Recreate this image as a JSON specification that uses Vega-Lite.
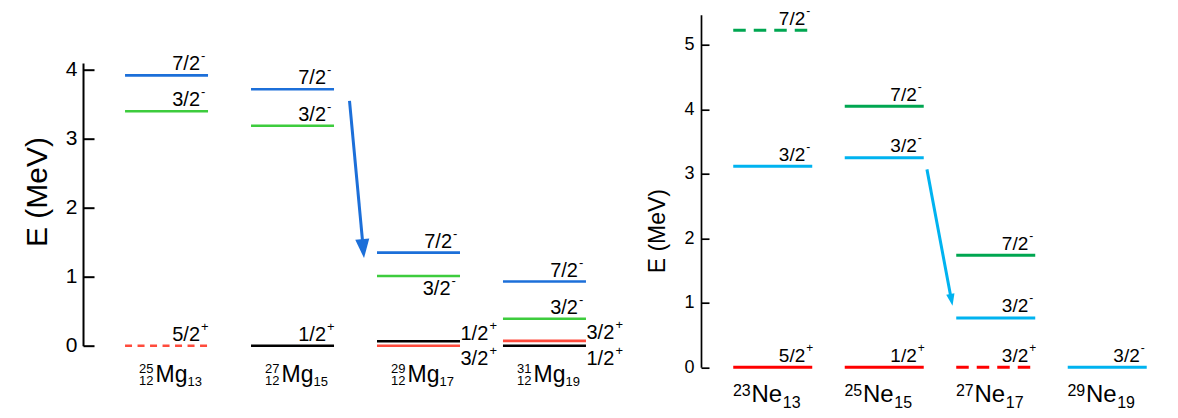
{
  "$schema": "https://vega.github.io/schema/vega-lite/v6.json",
  "padding": {"left": 22, "top": 3.7, "right": 0, "bottom": 0},
  "spacing": 18,
  "config": {"view": {"stroke": null}, "font": "Liberation Sans"},
  "resolve": {"scale": {"color": "independent"}},
  "datasets": {
    "mg": [
      {"nuc": "25Mg", "E": 3.92, "J": "7/2", "P": "-", "jp": "7/2-", "tent": false},
      {"nuc": "25Mg", "E": 3.40, "J": "3/2", "P": "-", "jp": "3/2-", "tent": false},
      {"nuc": "25Mg", "E": 0, "J": "5/2", "P": "+", "jp": "5/2+", "tent": true},
      {"nuc": "27Mg", "E": 3.72, "J": "7/2", "P": "-", "jp": "7/2-", "tent": false},
      {"nuc": "27Mg", "E": 3.19, "J": "3/2", "P": "-", "jp": "3/2-", "tent": false},
      {"nuc": "27Mg", "E": 0, "J": "1/2", "P": "+", "jp": "1/2+", "tent": false},
      {"nuc": "29Mg", "E": 1.35, "J": "7/2", "P": "-", "jp": "7/2-", "tent": false},
      {"nuc": "29Mg", "E": 1.01, "J": "3/2", "P": "-", "jp": "3/2-", "tent": false},
      {"nuc": "29Mg", "E": 0.064, "J": "1/2", "P": "+", "jp": "1/2+", "tent": false},
      {"nuc": "29Mg", "E": 0, "J": "3/2", "P": "+", "jp": "3/2+", "tent": false},
      {"nuc": "31Mg", "E": 0.93, "J": "7/2", "P": "-", "jp": "7/2-", "tent": false},
      {"nuc": "31Mg", "E": 0.39, "J": "3/2", "P": "-", "jp": "3/2-", "tent": false},
      {"nuc": "31Mg", "E": 0.07, "J": "3/2", "P": "+", "jp": "3/2+", "tent": false},
      {"nuc": "31Mg", "E": 0, "J": "1/2", "P": "+", "jp": "1/2+", "tent": false}
    ],
    "ne": [
      {"nuc": "23Ne", "E": 5.23, "J": "7/2", "P": "-", "jp": "7/2-", "tent": true},
      {"nuc": "23Ne", "E": 3.12, "J": "3/2", "P": "-", "jp": "3/2-", "tent": false},
      {"nuc": "23Ne", "E": 0, "J": "5/2", "P": "+", "jp": "5/2+", "tent": false},
      {"nuc": "25Ne", "E": 4.05, "J": "7/2", "P": "-", "jp": "7/2-", "tent": false},
      {"nuc": "25Ne", "E": 3.25, "J": "3/2", "P": "-", "jp": "3/2-", "tent": false},
      {"nuc": "25Ne", "E": 0, "J": "1/2", "P": "+", "jp": "1/2+", "tent": false},
      {"nuc": "27Ne", "E": 1.74, "J": "7/2", "P": "-", "jp": "7/2-", "tent": false},
      {"nuc": "27Ne", "E": 0.765, "J": "3/2", "P": "-", "jp": "3/2-", "tent": false},
      {"nuc": "27Ne", "E": 0, "J": "3/2", "P": "+", "jp": "3/2+", "tent": true},
      {"nuc": "29Ne", "E": 0, "J": "3/2", "P": "-", "jp": "3/2-", "tent": false}
    ],
    "mgnuc": [
      {"nuc": "25Mg", "A": "25", "Z": "12", "N": "13", "sym": "Mg"},
      {"nuc": "27Mg", "A": "27", "Z": "12", "N": "15", "sym": "Mg"},
      {"nuc": "29Mg", "A": "29", "Z": "12", "N": "17", "sym": "Mg"},
      {"nuc": "31Mg", "A": "31", "Z": "12", "N": "19", "sym": "Mg"}
    ],
    "nenuc": [
      {"nuc": "23Ne", "A": "23", "N": "13", "sym": "Ne"},
      {"nuc": "25Ne", "A": "25", "N": "15", "sym": "Ne"},
      {"nuc": "27Ne", "A": "27", "N": "17", "sym": "Ne"},
      {"nuc": "29Ne", "A": "29", "N": "19", "sym": "Ne"}
    ],
    "mgarrow": [{"nuc": "27Mg", "E1": 3.55, "E2": 1.52, "Etip": 1.27}],
    "nearrow": [{"nuc": "25Ne", "E1": 3.07, "E2": 1.126, "Etip": 0.955}]
  },
  "hconcat": [
    {
      "width": 545,
      "height": 331,
      "layer": [
        {
          "data": {"name": "mg"},
          "transform": [{"filter": "!datum.tent"}],
          "mark": {"type": "rule", "xOffset": -41.5, "x2Offset": 41.5, "strokeWidth": 2.6},
          "encoding": {
            "x": {"field": "nuc", "type": "nominal", "axis": null,
                  "scale": {"type": "point", "domain": ["25Mg", "27Mg", "29Mg", "31Mg"], "padding": 0.663}},
            "x2": {"field": "nuc"},
            "y": {"field": "E", "type": "quantitative",
                  "scale": {"domain": [0, 4.1], "nice": false, "range": [331, 48.3]},
                  "axis": {"title": "E (MeV)", "titleFontSize": 30, "titleFontWeight": "normal", "titleColor": "black",
                           "titlePadding": 12.5, "titleY": 176.8, "format": "d",
                           "labelFontSize": 21, "labelColor": "black", "labelPadding": 17,
                           "tickSize": -11, "tickWidth": 2, "tickColor": "black",
                           "domainColor": "black", "domainWidth": 2, "values": [0, 1, 2, 3, 4], "grid": false}},
            "color": {"field": "jp", "type": "nominal", "legend": null,
                      "scale": {"domain": ["7/2-", "3/2-", "1/2+", "3/2+", "5/2+"],
                                "range": ["#1c6fd9", "#3dcc3d", "#000000", "#ff4b3c", "#ff4b3c"]}}
          }
        },
        {
          "data": {"name": "mg"},
          "transform": [{"filter": "datum.tent"}],
          "mark": {"type": "rule", "xOffset": -41.5, "x2Offset": 41.5, "strokeWidth": 2.6, "strokeDash": [7, 5.5]},
          "encoding": {
            "x": {"field": "nuc", "type": "nominal"},
            "x2": {"field": "nuc"},
            "y": {"field": "E", "type": "quantitative"},
            "color": {"field": "jp", "type": "nominal"}
          }
        },
        {
          "data": {"name": "mg"},
          "transform": [{"filter": "!((datum.nuc=='29Mg' && datum.jp!='7/2-') || (datum.nuc=='31Mg' && datum.P=='+'))"}],
          "layer": [
            {"mark": {"type": "text", "align": "right", "baseline": "alphabetic", "dx": 33.5, "dy": -5, "fontSize": 20, "color": "black"},
             "encoding": {"text": {"field": "J"}}},
            {"mark": {"type": "text", "align": "left", "baseline": "alphabetic", "dx": 34.5, "dy": -15, "fontSize": 13, "color": "black"},
             "encoding": {"text": {"field": "P"}}}
          ],
          "encoding": {
            "x": {"field": "nuc", "type": "nominal"},
            "y": {"field": "E", "type": "quantitative"}
          }
        },
        {
          "data": {"name": "mg"},
          "transform": [{"filter": "datum.nuc=='29Mg' && datum.jp=='3/2-'"}],
          "layer": [
            {"mark": {"type": "text", "align": "right", "baseline": "alphabetic", "dx": 32, "dy": 19, "fontSize": 20, "color": "black"},
             "encoding": {"text": {"field": "J"}}},
            {"mark": {"type": "text", "align": "left", "baseline": "alphabetic", "dx": 33, "dy": 9, "fontSize": 13, "color": "black"},
             "encoding": {"text": {"field": "P"}}}
          ],
          "encoding": {
            "x": {"field": "nuc", "type": "nominal"},
            "y": {"field": "E", "type": "quantitative"}
          }
        },
        {
          "data": {"name": "mg"},
          "transform": [{"filter": "(datum.nuc=='29Mg' && datum.jp=='1/2+') || (datum.nuc=='31Mg' && datum.jp=='3/2+')"}],
          "layer": [
            {"mark": {"type": "text", "align": "left", "baseline": "alphabetic", "dx": 42, "dy": -1.5, "fontSize": 20, "color": "black"},
             "encoding": {"text": {"field": "J"}}},
            {"mark": {"type": "text", "align": "left", "baseline": "alphabetic", "dx": 71, "dy": -11.5, "fontSize": 13, "color": "black"},
             "encoding": {"text": {"field": "P"}}}
          ],
          "encoding": {
            "x": {"field": "nuc", "type": "nominal"},
            "y": {"field": "E", "type": "quantitative"}
          }
        },
        {
          "data": {"name": "mg"},
          "transform": [{"filter": "(datum.nuc=='29Mg' && datum.jp=='3/2+') || (datum.nuc=='31Mg' && datum.jp=='1/2+')"}],
          "layer": [
            {"mark": {"type": "text", "align": "left", "baseline": "alphabetic", "dx": 42, "dy": 19, "fontSize": 20, "color": "black"},
             "encoding": {"text": {"field": "J"}}},
            {"mark": {"type": "text", "align": "left", "baseline": "alphabetic", "dx": 71, "dy": 9, "fontSize": 13, "color": "black"},
             "encoding": {"text": {"field": "P"}}}
          ],
          "encoding": {
            "x": {"field": "nuc", "type": "nominal"},
            "y": {"field": "E", "type": "quantitative"}
          }
        },
        {
          "data": {"name": "mgarrow"},
          "mark": {"type": "rule", "xOffset": 57, "x2Offset": 70, "strokeWidth": 3, "color": "#1c6fd9"},
          "encoding": {
            "x": {"field": "nuc", "type": "nominal"},
            "x2": {"field": "nuc"},
            "y": {"field": "E1", "type": "quantitative"},
            "y2": {"field": "E2"}
          }
        },
        {
          "data": {"name": "mgarrow"},
          "mark": {"type": "point", "shape": "M-0.37,-1L0.37,-1L0,0Z", "size": 1444, "angle": 354.7,
                   "filled": true, "opacity": 1, "color": "#1c6fd9", "xOffset": 71.5},
          "encoding": {
            "x": {"field": "nuc", "type": "nominal"},
            "y": {"field": "Etip", "type": "quantitative"}
          }
        },
        {
          "data": {"name": "mgnuc"},
          "layer": [
            {"mark": {"type": "text", "align": "right", "baseline": "alphabetic", "dx": -13, "dy": 27.3, "fontSize": 13, "color": "black"},
             "encoding": {"text": {"field": "A"}}},
            {"mark": {"type": "text", "align": "right", "baseline": "alphabetic", "dx": -13, "dy": 39.3, "fontSize": 13, "color": "black"},
             "encoding": {"text": {"field": "Z"}}},
            {"mark": {"type": "text", "align": "center", "baseline": "alphabetic", "dx": 5, "dy": 36.6, "fontSize": 23, "color": "black"},
             "encoding": {"text": {"field": "sym"}}},
            {"mark": {"type": "text", "align": "left", "baseline": "alphabetic", "dx": 21, "dy": 40, "fontSize": 13, "color": "black"},
             "encoding": {"text": {"field": "N"}}}
          ],
          "encoding": {
            "x": {"field": "nuc", "type": "nominal"},
            "y": {"datum": 0, "type": "quantitative"}
          }
        }
      ]
    },
    {
      "width": 478,
      "height": 352.6,
      "layer": [
        {
          "data": {"name": "ne"},
          "transform": [{"filter": "!datum.tent"}],
          "mark": {"type": "rule", "xOffset": -39.5, "x2Offset": 39.5, "strokeWidth": 3},
          "encoding": {
            "x": {"field": "nuc", "type": "nominal", "axis": null,
                  "scale": {"type": "point", "domain": ["23Ne", "25Ne", "27Ne", "29Ne"], "padding": 0.6435}},
            "x2": {"field": "nuc"},
            "y": {"field": "E", "type": "quantitative",
                  "scale": {"domain": [0, 5.47], "nice": false},
                  "axis": {"title": "E (MeV)", "titleFontSize": 23, "titleFontWeight": "normal", "titleColor": "black",
                           "titlePadding": 14, "titleY": 216, "format": "d",
                           "labelFontSize": 18, "labelColor": "black", "labelPadding": 15,
                           "tickSize": -8, "tickWidth": 1.7, "tickColor": "black",
                           "domainColor": "black", "domainWidth": 1.7, "values": [0, 1, 2, 3, 4, 5], "grid": false}},
            "color": {"field": "jp", "type": "nominal", "legend": null,
                      "scale": {"domain": ["7/2-", "3/2-", "5/2+", "1/2+", "3/2+"],
                                "range": ["#00a651", "#00b3f0", "#ff0000", "#ff0000", "#ff0000"]}}
          }
        },
        {
          "data": {"name": "ne"},
          "transform": [{"filter": "datum.tent"}],
          "mark": {"type": "rule", "xOffset": -39.5, "x2Offset": 39.5, "strokeWidth": 3, "strokeDash": [12.5, 8]},
          "encoding": {
            "x": {"field": "nuc", "type": "nominal"},
            "x2": {"field": "nuc"},
            "y": {"field": "E", "type": "quantitative"},
            "color": {"field": "jp", "type": "nominal"}
          }
        },
        {
          "data": {"name": "ne"},
          "layer": [
            {"mark": {"type": "text", "align": "right", "baseline": "alphabetic", "dx": 32.5, "dy": -5.5, "fontSize": 19, "color": "black"},
             "encoding": {"text": {"field": "J"}}},
            {"mark": {"type": "text", "align": "left", "baseline": "alphabetic", "dx": 33.5, "dy": -15.5, "fontSize": 12, "color": "black"},
             "encoding": {"text": {"field": "P"}}}
          ],
          "encoding": {
            "x": {"field": "nuc", "type": "nominal"},
            "y": {"field": "E", "type": "quantitative"}
          }
        },
        {
          "data": {"name": "nearrow"},
          "mark": {"type": "rule", "xOffset": 42.7, "x2Offset": 66.2, "strokeWidth": 3, "color": "#00b3f0"},
          "encoding": {
            "x": {"field": "nuc", "type": "nominal"},
            "x2": {"field": "nuc"},
            "y": {"field": "E1", "type": "quantitative"},
            "y2": {"field": "E2"}
          }
        },
        {
          "data": {"name": "nearrow"},
          "mark": {"type": "point", "shape": "M-0.35,-1L0.35,-1L0,0Z", "size": 576, "angle": 349.4,
                   "filled": true, "opacity": 1, "color": "#00b3f0", "xOffset": 68.3},
          "encoding": {
            "x": {"field": "nuc", "type": "nominal"},
            "y": {"field": "Etip", "type": "quantitative"}
          }
        },
        {
          "data": {"name": "nenuc"},
          "layer": [
            {"mark": {"type": "text", "align": "right", "baseline": "alphabetic", "dx": -22, "dy": 28.7, "fontSize": 16, "color": "black"},
             "encoding": {"text": {"field": "A"}}},
            {"mark": {"type": "text", "align": "center", "baseline": "alphabetic", "dx": -6, "dy": 34.7, "fontSize": 24, "color": "black"},
             "encoding": {"text": {"field": "sym"}}},
            {"mark": {"type": "text", "align": "left", "baseline": "alphabetic", "dx": 10, "dy": 40.7, "fontSize": 16, "color": "black"},
             "encoding": {"text": {"field": "N"}}}
          ],
          "encoding": {
            "x": {"field": "nuc", "type": "nominal"},
            "y": {"datum": 0, "type": "quantitative"}
          }
        }
      ]
    }
  ]
}
